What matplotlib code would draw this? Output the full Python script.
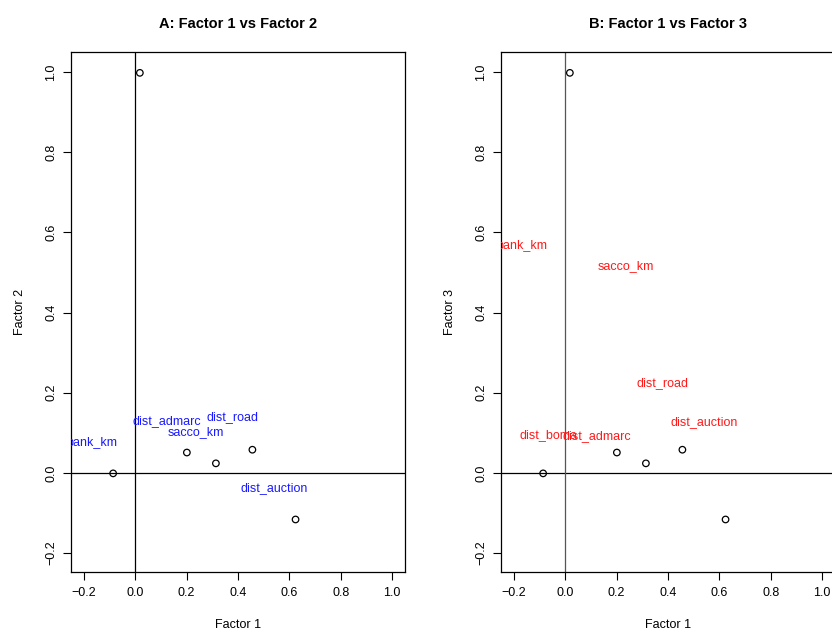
import numpy as np
import matplotlib
matplotlib.use("Agg")
import matplotlib.pyplot as plt

plt.rcParams['font.family'] = ['Liberation Sans', 'DejaVu Sans']

# loadings plotted as open circles (factor 1 vs factor 2)
pt_f1 = [-0.086, 0.018, 0.201, 0.314, 0.456, 0.624]
pt_f2 = [-0.001, 0.998, 0.051, 0.024, 0.058, -0.116]

# variable labels
var_names = ["bank_km", "dist_admarc", "dist_road", "sacco_km", "dist_auction", "dist_boma"]
lab_f1 = [-0.168, 0.121, 0.377, 0.234, 0.542, -0.065]
lab_f2 = [0.077, 0.130, 0.140, 0.102, -0.037, np.nan]
lab_f3 = [0.568, 0.091, 0.224, 0.517, 0.126, 0.095]

xticks = [-0.2, 0.0, 0.2, 0.4, 0.6, 0.8, 1.0]
yticks = [-0.2, 0.0, 0.2, 0.4, 0.6, 0.8, 1.0]

W, H = 832, 637
fig = plt.figure(figsize=(W / 100, H / 100), dpi=100)


def panel(rect, title, ylab, lab_y, color, vcolor):
    ax = fig.add_axes(rect)
    ax.set_xlim(-0.25, 1.05)
    ax.set_ylim(-0.247, 1.05)
    ax.axhline(0, color="black", lw=0.9, zorder=1)
    ax.axvline(0, color=vcolor, lw=0.9, zorder=1)
    ax.scatter(pt_f1, pt_f2, s=22, facecolors="none", edgecolors="black",
               linewidths=0.9, zorder=3)
    for name, x, y in zip(var_names, lab_f1, lab_y):
        if np.isnan(y):
            continue
        ax.text(x, y, name, color=color, fontsize=9, ha="center", va="center",
                clip_on=True)
    ax.set_xticks(xticks)
    ax.set_yticks(yticks)
    ax.set_xticklabels([f"{v:.1f}".replace("-", "\u2212") for v in xticks])
    ax.set_yticklabels([f"{v:.1f}".replace("-", "\u2212") for v in yticks],
                       rotation=90, va="center")
    ax.tick_params(direction="out", length=6, width=0.8, labelsize=9, pad=5)
    ax.tick_params(axis="y", pad=4)
    for s in ax.spines.values():
        s.set_linewidth(0.9)
    ax.set_title(title, fontsize=10.5, fontweight="bold", pad=17)
    ax.set_xlabel("Factor 1", fontsize=9, labelpad=14)
    ax.set_ylabel(ylab, fontsize=9, labelpad=14)
    return ax


top = (H - 52) / H
bot = (H - 572) / H
panel([71 / W, bot, 334 / W, top - bot], "A: Factor 1 vs Factor 2", "Factor 2",
      lab_f2, "#1a1aff", "black")
panel([501 / W, bot, 334 / W, top - bot], "B: Factor 1 vs Factor 3", "Factor 3",
      lab_f3, "#ff1a1a", "#555555")

fig.savefig("out.png", dpi=100)
